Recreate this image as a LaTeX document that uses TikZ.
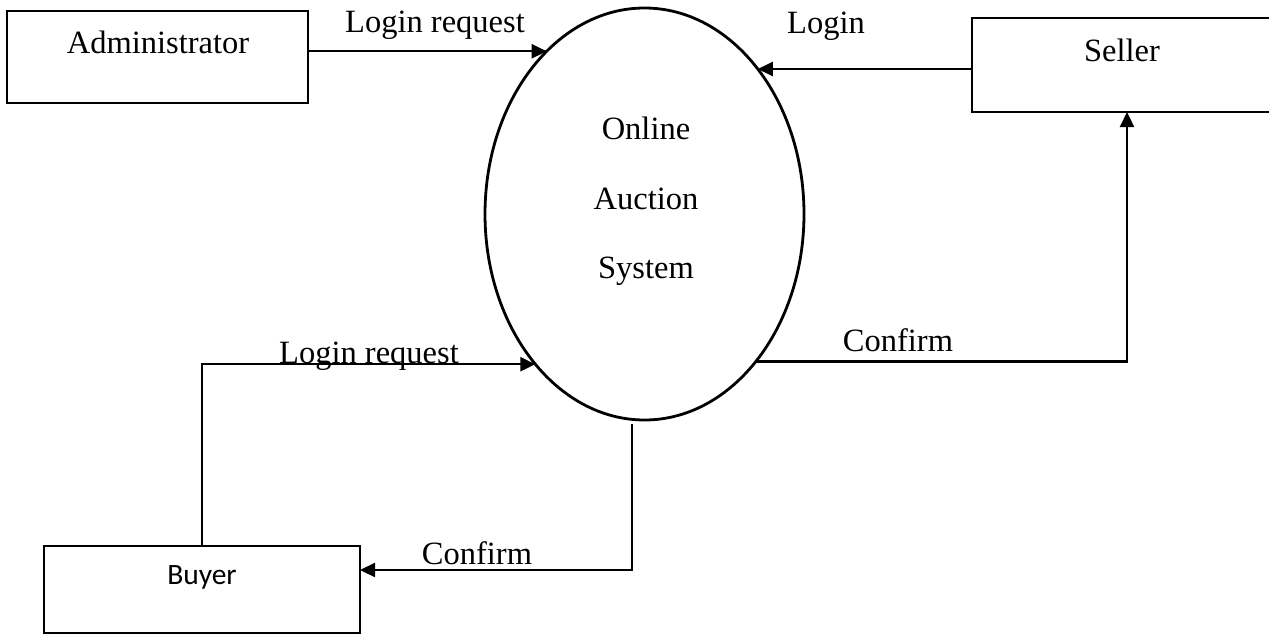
\documentclass[tikz,border=0pt]{standalone}
\usepackage{fontspec}
\setmainfont{Liberation Serif}
\newfontfamily\buyerfont{Carlito}
\usetikzlibrary{arrows.meta,shapes.geometric}

\tikzset{
  entity/.style={draw, line width=2.8pt, rectangle, inner sep=0pt, outer sep=0pt},
  process/.style={draw, line width=2.8pt, ellipse, inner sep=0pt, outer sep=0pt,
                  minimum width=319pt, minimum height=412pt},
  txt/.style={anchor=base, inner sep=0pt, font=\fontsize{32.5}{32.5}\selectfont},
  flow/.style={line width=2.3pt, -{Triangle[length=15pt,width=14pt]}}
}

\begin{document}
\begin{tikzpicture}[x=1pt, y=-1pt]
  \useasboundingbox (0,0) rectangle (1269,635);
  \fill[white] (0,0) rectangle (1269,635);
  \clip (0,0) rectangle (1269,635);

  % external entities
  \node[entity, minimum width=301pt, minimum height=92pt] (admin)  at (157.5,57) {};
  \node[entity, minimum width=300pt, minimum height=94pt] (seller) at (1122,65) {};
  \node[entity, minimum width=316pt, minimum height=87pt] (buyer)  at (202,589.5) {};

  % central process
  \node[process] (sys) at (644.5,214) {};

  % entity names
  \node[txt] (admintext)  at (158,53)  {Administrator};
  \node[txt] (sellertext) at (1122,61) {Seller};
  \node[anchor=base, inner sep=0pt, font=\buyerfont\fontsize{29.5}{29.5}\selectfont] (buyertext) at (202,584) {Buyer};

  % process name
  \node[txt] (sys1) at (646,139)   {Online};
  \node[txt] (sys2) at (646,209.5) {Auction};
  \node[txt] (sys3) at (646,278)   {System};

  % data flows
  \draw[flow] (sys.121.3 -| admin.east) -- (sys.121.3);
  \draw[flow] (sys.52.8 -| seller.west) -- (sys.52.8);
  \draw[flow] (buyer.north) |- (sys.234.3);
  \draw[flow] (sys.-53.9) -| (seller.south -| 1127,0);

  \coordinate (sysout) at (632,424);
  \coordinate (turn) at (632,570);
  \draw[flow] (sysout) -- (turn) -- (turn -| buyer.east);

  % flow labels
  \node[txt] (l1) at (435,32)  {Login request};
  \node[txt] (l2) at (826,33)  {Login};
  \node[txt] (l3) at (369,363) {Login request};
  \node[txt] (l4) at (898,351) {Confirm};
  \node[txt] (l5) at (477,564) {Confirm};
\end{tikzpicture}
\end{document}
